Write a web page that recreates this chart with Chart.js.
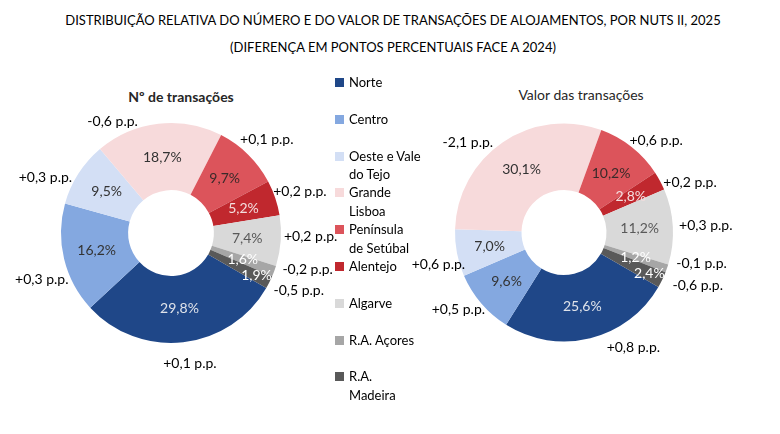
<!DOCTYPE html>
<html>
<head>
<meta charset="utf-8">
<script src="https://cdn.jsdelivr.net/npm/chart.js@4.4.1/dist/chart.umd.min.js"></script>
<style>
    body { margin: 0; width: 780px; height: 434px; background: #fff; font-family: Lato, sans-serif; position: relative; overflow: hidden; color: #000; }
    .title { position: absolute; left: 0; width: 786px; text-align: center; font-size: 13px; }
    .sub { position: absolute; width: 240px; text-align: center; font-size: 14px; color: #262626; }
    .box { position: absolute; top: 80px; height: 300px; }
    #legend { position: absolute; left: 335px; top: 0; }
    .item { position: absolute; left: 0; width: 100px; font-size: 13px; line-height: 18.5px; }
    .item span.sq { position: absolute; left: 0; top: 5px; width: 9px; height: 9px; }
    .item div { margin-left: 14px; white-space: nowrap; }
</style>
</head>
<body>

<div class="title" style="top:12px">DISTRIBUIÇÃO RELATIVA DO NÚMERO E DO VALOR DE TRANSAÇÕES DE ALOJAMENTOS, POR NUTS II, 2025</div>
<div class="title" style="top:39px">(DIFERENÇA EM PONTOS PERCENTUAIS FACE A 2024)</div>
<div class="sub" style="left:61px; top:88px; font-weight:bold">Nº de transações</div>
<div class="sub" style="left:461px; top:86px">Valor das transações</div>

<div class="box" style="left:0; width:340px"><canvas id="chart-num"></canvas></div>
<div class="box" style="left:390px; width:390px"><canvas id="chart-val"></canvas></div>
<div id="legend"></div>

<script>
// regioes NUTS II (multi-line names as in the legend)
var regions = [['Norte'], ['Centro'], ['Oeste e Vale', 'do Tejo'], ['Grande', 'Lisboa'], ['Península', 'de Setúbal'],
               ['Alentejo'], ['Algarve'], ['R.A. Açores'], ['R.A.', 'Madeira']];

// % do numero de transacoes em 2025 e diferenca face a 2024 (p.p.)
var shareNumber = [29.8, 16.2, 9.5, 18.7, 9.7, 5.2, 7.4, 1.6, 1.9];
var diffNumber = [0.1, 0.3, 0.3, -0.6, 0.1, 0.2, 0.2, -0.2, -0.5];

// % do valor das transacoes em 2025 e diferenca face a 2024 (p.p.)
var shareValue = [25.6, 9.6, 7.0, 30.1, 10.2, 2.8, 11.2, 1.2, 2.4];
var diffValue = [0.8, 0.5, 0.6, -2.1, 0.6, 0.2, 0.3, -0.1, -0.6];

var colors = ['#1F4788', '#84A8E0', '#D3DFF5', '#F7DADB', '#DC545B', '#C0282E', '#D9D9D9', '#A6A6A6', '#595959'];
var innerColors = ['#dfe3ea', '#333333', '#333333', '#333333', '#3a2a2a', '#f4dede', '#595959', '#ffffff', '#ffffff'];


function fmt(v) {
    return v.toFixed(1).replace('.', ',');
}

// draws the % inside each slice and the p.p. change outside it
var sliceLabels = {
    id: 'sliceLabels',
    afterDatasetsDraw: function(chart, args, opts) {
        var ctx = chart.ctx;
        var ds = chart.data.datasets[0];
        var meta = chart.getDatasetMeta(0);
        ctx.save();
        ctx.font = '14px Lato';
        ctx.textAlign = 'center';
        ctx.textBaseline = 'middle';
        meta.data.forEach(function(arc, i) {
            var p = arc.getProps(['x', 'y', 'startAngle', 'endAngle', 'innerRadius', 'outerRadius'], true);
            var mid = (p.startAngle + p.endAngle) / 2;
            var rIn = (p.innerRadius + p.outerRadius) / 2 * (opts.innerScale[i] || 1);
            ctx.fillStyle = innerColors[i];
            ctx.fillText(fmt(ds.data[i]) + '%', p.x + Math.cos(mid) * rIn, p.y + Math.sin(mid) * rIn);

            var d = ds.diffs[i];
            var rOut = p.outerRadius + opts.gap;
            var n = opts.nudge[i];
            ctx.fillStyle = '#000';
            ctx.fillText((d > 0 ? '+' : '') + fmt(d) + ' p.p.', p.x + Math.cos(mid) * rOut + n[0], p.y + Math.sin(mid) * rOut + n[1]);
        });
        ctx.restore();
    }
};

function doughnut(id, data, diffs, padding, nudge) {
    var ctx = document.getElementById(id);
    return new Chart(ctx, {
        type: 'doughnut',
        data: {
            labels: regions,
            datasets: [{
                data: data,
                diffs: diffs,
                backgroundColor: colors,
                borderWidth: 0
            }]
        },
        options: {
            responsive: true,
            maintainAspectRatio: false,
            animation: false,
            rotation: 120,
            cutout: '39%',
            layout: { padding: padding },
            plugins: {
                legend: { display: false },
                tooltip: { enabled: false },
                sliceLabels: { gap: 25, nudge: nudge, innerScale: [1, 1, 1, 1, 1, 1, 1, 1, 1.25] }
            }
        },
        plugins: [sliceLabels]
    });
}

doughnut('chart-num', shareNumber, diffNumber, { left: 61, right: 59, top: 43, bottom: 37 },
    [[4, -4], [2, 15], [-12, 17], [-43, 23], [1, 3], [1, 2], [5, -6], [10, -10], [7, -3]]);
doughnut('chart-val', shareValue, diffValue, { left: 65, right: 107, top: 43.5, bottom: 38.5 },
    [[37, -15], [-4, -10], [6, 7], [-21, 21], [9, 13], [8, 13], [8, 0], [11, -13], [13, -5]]);


// legend in the middle, one slot per region
var legend = document.getElementById('legend');
regions.forEach(function(lines, i) {
    var item = document.createElement('div');
    item.className = 'item';
    item.style.top = (73 + i * 36.8) + 'px';
    item.innerHTML = '<span class="sq" style="background:' + colors[i] + '"></span><div>' + lines.join('<br>') + '</div>';
    legend.appendChild(item);
});
</script>
</body>
</html>
